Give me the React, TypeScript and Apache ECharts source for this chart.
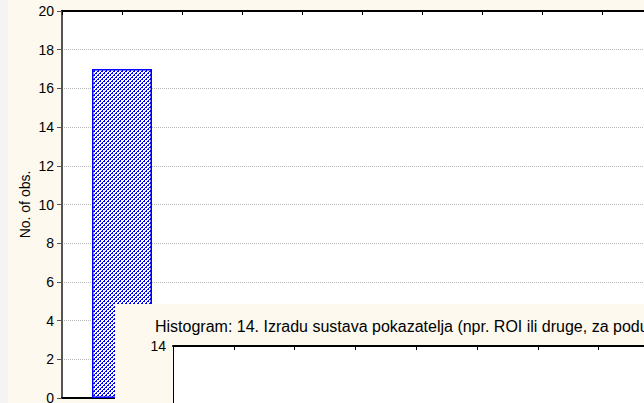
import React, { useEffect, useRef } from "react";
import * as echarts from "echarts";

// Main histogram (partially visible)
const mainBins = [1];
const mainCounts = [17];
const mainYTicks = { min: 0, max: 20, step: 2 };
const mainYName = "No. of obs.";

// Overlapping second histogram window (only its top edge is visible)
const innerTitle = "Histogram: 14. Izradu sustava pokazatelja (npr. ROI ili druge, za podu";
const innerYTicks = { min: 0, max: 14, step: 2 };

function makePattern(): HTMLCanvasElement {
  const c = document.createElement("canvas");
  c.width = 4;
  c.height = 4;
  const ctx = c.getContext("2d")!;
  ctx.fillStyle = "#ffffff";
  ctx.fillRect(0, 0, 4, 4);
  ctx.fillStyle = "#0000ff";
  for (let x = 0; x < 4; x++) {
    for (let y = 0; y < 4; y++) {
      const d = (x + y) % 4;
      if (d === 0 || (d === 1 && x % 2 === 0)) ctx.fillRect(x, y, 1, 1);
    }
  }
  return c;
}

export default function App() {
  const ref = useRef<HTMLDivElement>(null);
  useEffect(() => {
    document.body.style.margin = "0";
    const chart = echarts.init(ref.current!, undefined, { renderer: "svg" });
    const pattern = makePattern();
    const font = "Liberation Sans, Arial, sans-serif";
    chart.setOption({
      animation: false,
      backgroundColor: "#fdf9ef",
      textStyle: { fontFamily: font },
      grid: [
        { left: 62, top: 11, width: 600, height: 387, show: true, backgroundColor: "#ffffff", borderWidth: 0, z: 0, outerBoundsMode: "none", containLabel: false },
        { left: 173, top: 346, width: 608, height: 500, show: true, backgroundColor: "#ffffff", borderWidth: 0, z: 10, outerBoundsMode: "none", containLabel: false },
      ],
      xAxis: [
        {
          gridIndex: 0, type: "value", position: "bottom", min: 0, max: 10, interval: 1,
          axisLine: { show: true, onZero: false, lineStyle: { color: "#000", width: 2 } },
          axisTick: { show: false }, axisLabel: { show: false }, splitLine: { show: false },
        },
        {
          gridIndex: 0, type: "value", position: "top", min: 0, max: 10, interval: 1,
          axisLine: { show: true, onZero: false, lineStyle: { color: "#000", width: 2 } },
          axisTick: { show: true, inside: true, length: 4, lineStyle: { color: "#000" } },
          axisLabel: { show: false }, splitLine: { show: false },
        },
        {
          gridIndex: 1, type: "value", position: "top", min: 0, max: 10, interval: 1, z: 10,
          axisLine: { show: true, onZero: false, lineStyle: { color: "#000", width: 2 } },
          axisTick: { show: true, inside: true, length: 4, lineStyle: { color: "#000" } },
          axisLabel: { show: false }, splitLine: { show: false },
        },
      ],
      yAxis: [
        {
          gridIndex: 0, type: "value", min: mainYTicks.min, max: mainYTicks.max, interval: mainYTicks.step,
          name: mainYName, nameLocation: "middle", nameGap: 30, nameMoveOverlap: false,
          nameTextStyle: { fontSize: 14, color: "#000", fontFamily: font },
          axisLine: { show: true, lineStyle: { color: "#555", width: 2 } },
          axisTick: { show: true, length: 5, lineStyle: { color: "#555" } },
          axisLabel: { fontSize: 14, color: "#000", margin: 8, fontFamily: font },
          splitLine: { show: true, lineStyle: { color: "#b8b8b8", type: "dotted", width: 1 } },
        },
        {
          gridIndex: 1, type: "value", min: innerYTicks.min, max: innerYTicks.max, interval: innerYTicks.step, z: 10,
          axisLine: { show: true, lineStyle: { color: "#000", width: 1 } },
          axisTick: { show: false },
          axisLabel: {
            fontSize: 14, color: "#000", margin: 7, fontFamily: font,
            formatter: (v: number) => (v === innerYTicks.max ? String(v) : ""),
          },
          splitLine: { show: false },
        },
      ],
      series: [
        {
          type: "bar",
          xAxisIndex: 0,
          yAxisIndex: 0,
          barWidth: 60,
          data: mainBins.map((b, i) => [b, mainCounts[i]]),
          itemStyle: {
            color: { image: pattern, repeat: "repeat" },
            borderColor: "#0000ff",
            borderWidth: 1.5,
          },
        },
      ],
      graphic: [
        { type: "rect", z: 100, shape: { x: 0, y: 0, width: 8, height: 403 }, style: { fill: "#f4f4f4" } },
        { type: "rect", z: 5, shape: { x: 115, y: 304, width: 529, height: 99 }, style: { fill: "#fdf9ef" } },
        {
          type: "text", z: 12, x: 155, y: 326,
          style: { text: innerTitle, fill: "#000", font: `16px ${font}`, textVerticalAlign: "middle" },
        },
      ],
    });
    return () => chart.dispose();
  }, []);
  return <div ref={ref} style={{ width: 644, height: 403 }} />;
}
